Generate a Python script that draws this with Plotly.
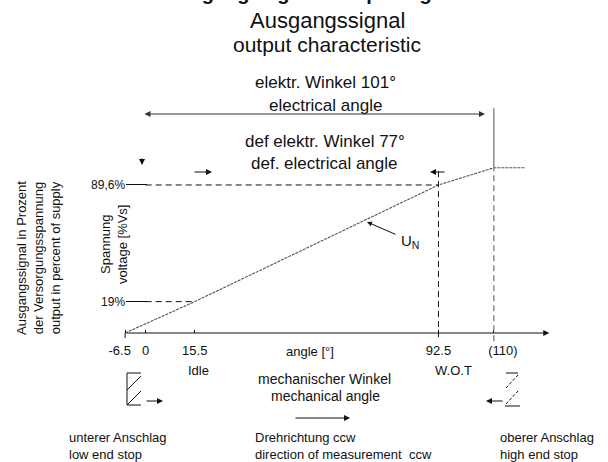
import plotly.graph_objects as go

# ---------------- data ----------------
angle_ticks = [-6.5, 0, 15.5, 92.5, 110]
angle_labels = ["-6.5", "0", "15.5", "92.5", "(110)"]
curve_angle = [-6.5, 15.5, 92.5, 110, 120]
curve_voltage = [0, 19, 89.6, 100, 100]
volt_ticks = [19, 89.6]
volt_labels = ["19%", "89,6%"]
guide_angle = [15.5, 92.5]          # where the voltage guides meet the curve
wot_angle = 92.5
stop_angle = 110
plateau_level = 100

W, H = 608, 462
FONT = "Liberation Sans, Arial, sans-serif"
INK = "#111111"
GREY = "#7a7a7a"
NB = "\u00a0"

def P(px):  # pixel x -> paper
    return px / W

def Q(py):  # pixel y -> paper
    return 1 - py / H

# labels at the end stops sit beside their guide lines, as in the drawing
shown_labels = list(angle_labels)
shown_labels[0] = angle_labels[0] + NB * 3
shown_labels[-1] = NB * 5 + angle_labels[-1]

fig = go.Figure()

# characteristic line
fig.add_trace(go.Scatter(x=curve_angle, y=curve_voltage, mode="lines",
                         line=dict(color="#555555", width=1.1, dash="3px,1px"),
                         hoverinfo="skip"))

shapes = []
# dashed voltage guides from 0 deg to the curve
for v, a in zip(volt_ticks, guide_angle):
    shapes.append(dict(type="line", xref="x", yref="y", x0=0, x1=a, y0=v, y1=v,
                       line=dict(color=INK, width=1, dash="6px,4px")))
# vertical guide at W.O.T
shapes.append(dict(type="line", xref="x", yref="y", x0=wot_angle, x1=wot_angle,
                   y0=-2.5, y1=plateau_level, line=dict(color=INK, width=1, dash="6px,4px")))
# vertical guide at upper stop (dashed below plateau, solid above)
shapes.append(dict(type="line", xref="x", yref="y", x0=stop_angle, x1=stop_angle,
                   y0=-5, y1=plateau_level, line=dict(color=GREY, width=1.3, dash="6px,4px")))
shapes.append(dict(type="line", xref="x", yref="y", x0=stop_angle, x1=stop_angle,
                   y0=plateau_level, y1=136, line=dict(color=GREY, width=1.3)))
# small tick below the axis at the lower stop
shapes.append(dict(type="line", xref="x", yref="y", x0=angle_ticks[0], x1=angle_ticks[0],
                   y0=0, y1=-3, line=dict(color=INK, width=1)))

# end-stop symbols (paper coords)
def seg(x0, y0, x1, y1, color=INK, dash=None, width=1):
    d = dict(color=color, width=width)
    if dash:
        d["dash"] = dash
    shapes.append(dict(type="line", xref="paper", yref="paper",
                       x0=P(x0), y0=Q(y0), x1=P(x1), y1=Q(y1), line=d))

# lower stop
seg(127, 373, 127, 405)
seg(127, 373, 141, 373)
seg(127, 405, 141, 405)
seg(127, 390, 141, 376)
seg(127, 405, 141, 391)
# upper stop
seg(506, 373, 518, 373)
seg(505, 406, 520, 406)
seg(506, 388, 518, 375, dash="3px,2px")
seg(506, 404, 519, 390, dash="3px,2px")

annotations = []

def txt(s, x, y, size=13, xanchor="center", angle=0, bold=False, color=INK):
    if bold:
        s = "<b>" + s + "</b>"
    annotations.append(dict(text=s, xref="paper", yref="paper", x=P(x), y=Q(y),
                            xanchor=xanchor, yanchor="middle", showarrow=False,
                            textangle=angle, font=dict(family=FONT, size=size, color=color)))

def arrow(x, y, dx, dy, both=False, color=INK, width=1.2, size=1.0):
    annotations.append(dict(text="", xref="paper", yref="paper", x=P(x), y=Q(y),
                            ax=dx, ay=dy, showarrow=True, arrowhead=2,
                            arrowside="end+start" if both else "end",
                            arrowsize=size, arrowwidth=width, arrowcolor=color))

# titles (first line is cut by the top edge, as in the reference)
annotations.append(dict(text="<b>Ausgangssignal / output signal</b>", xref="paper", yref="paper",
                        x=P(312), y=Q(6), xanchor="center", yanchor="bottom", showarrow=False,
                        font=dict(family=FONT, size=20, color=INK)))
txt("Ausgangssignal", 327, 21, size=22)
txt("output characteristic", 327, 44, size=21)

# electrical angle dimension
txt("elektr. Winkel 101°", 325, 83, size=17)
txt("electrical angle", 325, 105, size=17)
arrow(485, 114, -342, 0, both=True, color="#333333", width=1.2)

# defined electrical angle
txt("def elektr. Winkel 77°", 325, 142, size=17)
txt("def. electrical angle", 324, 163, size=17)
arrow(212, 172, -19, 0)
arrow(430, 172, 16, 0)
arrow(142, 165, 0, -8)

# U_N label
arrow(367, 222, 30, 13, width=1)
txt("U<sub>N</sub>", 410, 241, size=15)

# y labels
txt("Spannung<br>voltage [%Vs]", 114, 244, size=13, angle=-90)
txt("Ausgangssignal in Prozent<br>der Versorgungsspannung<br>output in percent of supply",
    38, 258, size=13, angle=-90)

# x axis arrow (data coords)
annotations.append(dict(text="", xref="x", yref="y", x=127.5, y=0, axref="x", ayref="y",
                        ax=-6.5, ay=0, showarrow=True, arrowhead=2, arrowsize=1,
                        arrowwidth=1.2, arrowcolor=INK))

txt("angle [°]", 310, 351, size=13)
txt("Idle", 198, 370, size=13)
txt("W.O.T", 453, 370, size=13)
txt("mechanischer Winkel", 324, 379, size=14)
txt("mechanical angle", 325, 396, size=14)

# direction arrows
arrow(163, 401, -18, 0)
arrow(486, 401, 18, 0)
arrow(350, 418, -56, 0)

# bottom legends
txt("unterer Anschlag", 67, 437, size=13, xanchor="left")
txt("low end stop", 67, 454, size=13, xanchor="left")
txt("Drehrichtung ccw", 253, 437, size=13, xanchor="left")
txt("direction of measurement  ccw", 253, 454, size=13, xanchor="left")
txt("oberer Anschlag", 498, 437, size=13, xanchor="left")
txt("high end stop", 498, 454, size=13, xanchor="left")

x0 = -145.7 / 3.165
x1 = (W - 145.7) / 3.165
y_top = 333 / 1.652
y_bot = (333 - H) / 1.652

fig.update_layout(
    width=W, height=H,
    margin=dict(l=0, r=0, t=0, b=0),
    paper_bgcolor="white", plot_bgcolor="white",
    showlegend=False,
    shapes=shapes, annotations=annotations,
    xaxis=dict(range=[x0, x1], anchor="free", position=1 - 333 / H,
               tickvals=angle_ticks, ticktext=shown_labels, tickangle=0,
               ticks="inside", ticklen=3, tickcolor=INK, ticklabelstandoff=8,
               showline=False, showgrid=False, zeroline=False,
               tickfont=dict(family=FONT, size=13, color=INK), fixedrange=True),
    yaxis=dict(range=[y_bot, y_top], anchor="free", position=125.1 / W,
               tickvals=volt_ticks, ticktext=volt_labels,
               ticks="inside", ticklen=21, tickcolor=INK,
               showline=False, showgrid=False, zeroline=False,
               tickfont=dict(family=FONT, size=12, color=INK), fixedrange=True),
)

fig.write_html("out.html", config={"displayModeBar": False},
               post_script="document.body.style.margin='0';document.body.style.overflow='hidden';")
